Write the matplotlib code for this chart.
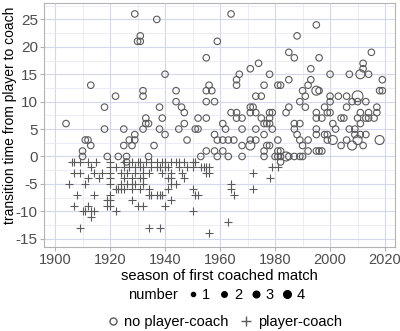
import matplotlib
matplotlib.use("Agg")
import matplotlib.pyplot as plt
from matplotlib.lines import Line2D

plt.rcParams["font.family"] = ["Liberation Sans", "DejaVu Sans"]

# no player-coach (number = 1): transition time -> seasons
np_rows = {
    26: [1929, 1964],
    25: [1937],
    24: [1995],
    22: [1931, 1988],
    21: [1930, 1931, 1959],
    19: [1985, 2015],
    18: [1955, 1987, 1996],
    17: [1974, 2012],
    16: [1971, 1993, 2012],
    15: [1940, 1967, 1978, 2000, 2007, 2014],
    14: [1966, 1985, 1993, 2019],
    13: [1913, 1956, 1966, 1976, 1981, 1982, 1992],
    12: [1932, 1944, 1955, 1957, 1990, 1996, 2018, 2019],
    11: [1922, 1932, 1973, 1975, 1991, 2000, 2003, 2006],
    10: [1944, 1955, 1958, 1989, 2000, 2008, 2010, 2013],
    9: [1918, 1938, 1946, 1971, 1972, 1985, 1991, 1998, 2006, 2017],
    8: [1947, 1964, 1966, 1971, 1973, 1978, 1979, 1984, 1995, 1999, 2000, 2011, 2014, 2017],
    7: [1933, 1939, 1952, 1955, 1966, 1968, 1975, 1978, 1995, 1997, 2004, 2005, 2010, 2013, 2014, 2016],
    6: [1904, 1933, 1934, 1947, 1961, 1976, 1977, 1978, 1987, 1989, 2001, 2011],
    5: [1918, 1925, 1932, 1938, 1945, 1951, 1952, 1962, 1968, 1973, 1979, 1987, 1995, 2002, 2007, 2009],
    4: [1929, 1940, 1958, 1976, 1988, 1995, 1998, 1999, 2009, 2011, 2013],
    3: [1911, 1912, 1927, 1929, 1948, 1959, 1961, 1963, 1965, 1971, 1973, 1981, 1989, 1992, 1999, 2006],
    2: [1913, 1925, 1928, 1936, 1968, 1977, 1978, 1990, 2004, 2012],
    1: [1910, 1955, 1958, 1961, 1976, 1981, 1982, 1992, 1995, 1996, 1997],
    0: [1910, 1919, 1923, 1926, 1934, 1953, 1959, 1963, 1968, 1976, 1980, 1981, 1982, 1985, 1987, 1989, 1990],
    -1: [1926, 1982],
}
# no player-coach with number > 1
big_year = [2011, 1995, 2010, 2001, 2010, 2018, 1971, 2008, 1984]
big_time = [15, 12, 11, 3, 3, 3, 2, 2, 0]
big_num = [2, 2, 3, 2, 2, 2, 2, 2, 2]

# player-coach: transition time -> seasons
pc_rows = {
    -1: [1906, 1907, 1909, 1912, 1915, 1920, 1925, 1928, 1930, 1931, 1933, 1935, 1937, 1939, 1940, 1942, 1944, 1945, 1947, 1950, 1951],
    -2: [1913, 1920, 1922, 1925, 1927, 1929, 1931, 1932, 1935, 1937, 1938, 1940, 1941, 1945, 1948, 1950, 1953, 1954, 1955, 1956, 1979, 1981],
    -3: [1907, 1909, 1914, 1917, 1920, 1924, 1926, 1929, 1932, 1934, 1939, 1942, 1946, 1955, 1956, 1972],
    -4: [1912, 1916, 1920, 1925, 1928, 1931, 1932, 1941, 1942, 1947, 1978],
    -5: [1905, 1911, 1920, 1924, 1926, 1928, 1929, 1932, 1942, 1944, 1964],
    -6: [1922, 1923, 1924, 1925, 1928, 1931, 1934, 1941, 1950, 1964, 1972],
    -7: [1908, 1914, 1920, 1934, 1935, 1937, 1938, 1939, 1951, 1952, 1965],
    -8: [1919, 1920, 1928, 1942],
    -9: [1907, 1912, 1919, 1920, 1930, 1932, 1940],
    -10: [1910, 1911, 1913, 1914, 1922, 1950],
    -11: [1913],
    -12: [1963],
    -13: [1909, 1934, 1938],
    -14: [1956],
}

x_ticks = [1900, 1920, 1940, 1960, 1980, 2000, 2020]
x_minor = [1910, 1930, 1950, 1970, 1990, 2010]
y_ticks = [-15, -10, -5, 0, 5, 10, 15, 20, 25]
y_labels = ["-15", "-10", "-5", "0", "5", "10", "15", "20", "25"]
y_minor = [-12.5, -7.5, -2.5, 2.5, 7.5, 12.5, 17.5, 22.5, 27.5]

np_year, np_time = [], []
for t, ys in np_rows.items():
    for y in ys:
        np_year.append(y)
        np_time.append(t)
pc_year, pc_time = [], []
for t, ys in pc_rows.items():
    for y in ys:
        pc_year.append(y)
        pc_time.append(t)

sizes = {1: 22, 2: 42, 3: 60, 4: 78}
grey = "#5a5a5a"

fig = plt.figure(figsize=(4, 3.31), dpi=100)
ax = fig.add_axes([0.11, 0.254, 0.8775, 0.737])

ax.set_axisbelow(True)
ax.set_xticks(x_ticks)
ax.set_xticklabels([str(v) for v in x_ticks], fontsize=10.5, color="#4d4d4d")
ax.set_xticks(x_minor, minor=True)
ax.set_yticks(y_ticks)
ax.set_yticklabels(y_labels, fontsize=11, color="#4d4d4d")
ax.set_yticks(y_minor, minor=True)
ax.grid(which="major", color="#d3d8ee", lw=0.8)
ax.grid(which="minor", color="#e6e9f6", lw=0.6)

ax.scatter(np_year, np_time, s=sizes[1], facecolors="none", edgecolors=grey, linewidths=0.8, zorder=3)
ax.scatter(big_year, big_time, s=[sizes[n] for n in big_num], facecolors="none", edgecolors=grey,
           linewidths=0.8, zorder=3)
ax.scatter(pc_year, pc_time, s=40, marker="+", color=grey, linewidths=0.8, zorder=3)

ax.set_xlim(1896.0, 2023.6)
ax.set_ylim(-16.5, 28)
for s in ax.spines.values():
    s.set_color("#b3b3b3")
ax.tick_params(axis="both", which="major", color="#b3b3b3", length=3, pad=1.5)
ax.tick_params(which="minor", length=0)

ax.set_xlabel("season of first coached match", fontsize=10.6, labelpad=1)
fig.text(0.024, 0.652, "transition time from player to coach", fontsize=10, rotation=90,
         ha="center", va="center")

# size legend
fig.text(0.32, 0.109, "number", fontsize=10.5, ha="left", va="center")
h1 = [Line2D([], [], ls="none", marker="o", color="black", markersize=m) for m in (3, 4, 4.8, 5.5)]
fig.legend(h1, ["1", "2", "3", "4"], loc="center", bbox_to_anchor=(0.613, 0.109), ncol=4,
           frameon=False, fontsize=10.5, handletextpad=0.15, columnspacing=0.45, handlelength=1.0)

# shape legend
h2 = [Line2D([], [], ls="none", marker="o", markerfacecolor="none", markeredgecolor=grey, markersize=5),
      Line2D([], [], ls="none", marker="+", color=grey, markersize=7)]
fig.legend(h2, ["no player-coach", "player-coach"], loc="center", bbox_to_anchor=(0.557, 0.027), ncol=2,
           frameon=False, fontsize=10.5, handletextpad=0.2, columnspacing=0.6, handlelength=1.2)

fig.savefig("out.png", dpi=100)
